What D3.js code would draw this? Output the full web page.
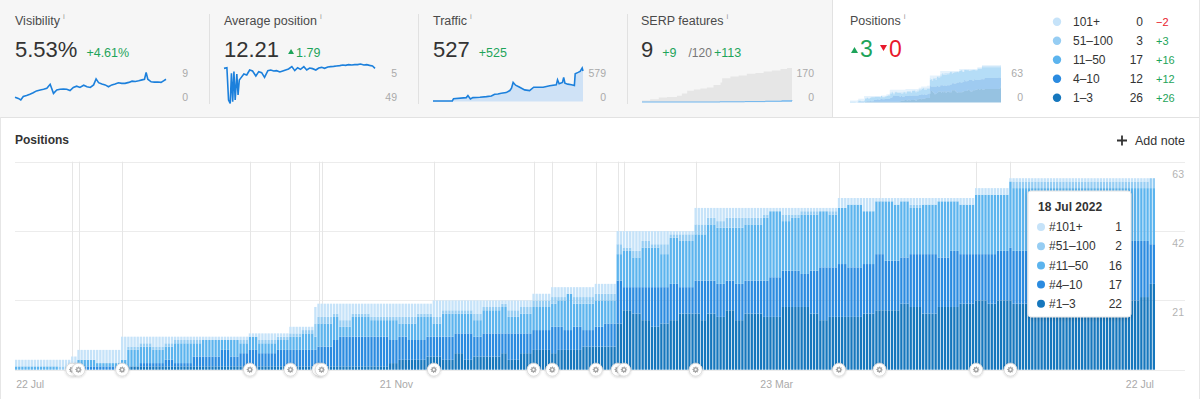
<!DOCTYPE html>
<html><head><meta charset="utf-8">
<script src="https://cdn.jsdelivr.net/npm/d3@7"></script>
<style>
html,body{margin:0;padding:0;background:#fff;}
svg{display:block;font-family:"Liberation Sans",Arial,Helvetica,sans-serif;}
</style></head><body>
<svg id="c" width="1200" height="399">
<defs>
<filter id="sh" x="-20%" y="-20%" width="140%" height="140%"><feDropShadow dx="0" dy="1" stdDeviation="2" flood-color="#000" flood-opacity="0.18"/></filter>
<filter id="sh2" x="-50%" y="-50%" width="200%" height="200%"><feDropShadow dx="0" dy="0.5" stdDeviation="0.8" flood-color="#000" flood-opacity="0.2"/></filter>
</defs>
</svg>
<script>
// ---------------- DATA ----------------
const startDate = "2021-07-22";
const seriesNames = ["1–3","4–10","11–50","51–100","101+"];
// day offsets (from startDate) at which the stacked position counts change
const stepDays = [0,14,18,20,26,34,36,40,44,48,51,57,60,66,69,72,75,78,84,88,92,96,97,102,104,108,114,120,123,126,129,132,134,137,141,144,147,150,156,158,162,166,172,174,176,177,179,182,186,189,193,195,198,201,204,207,210,213,218,220,222,225,228,231,234,240,242,246,249,252,255,258,261,264,267,272,276,279,282,284,287,291,296,300,303,308,312,315,319,320,325,358,361,364];
const top1_3    = [0,0,0,0,0,0,1,1,1,1,1,1,1,1,1,1,1,1,1,1,1,1,1,1,1,1,1,2,3,3,3,4,4,3,5,3,4,4,5,3,5,6,5,6,6,6,6,7,7,7,14,18,17,15,13,14,15,17,17,15,17,16,18,15,17,16,16,19,19,19,17,15,16,16,16,17,18,18,18,20,19,17,19,19,20,21,20,21,21,20,21,21,22,26];
const top4_10   = [0,0,0,1,1,0,0,1,1,2,1,3,3,5,3,4,5,4,5,5,5,5,6,8,9,9,9,7,7,6,6,6,6,7,6,8,6,7,6,8,6,6,8,7,6,6,7,5,6,7,13,7,8,10,12,11,11,8,10,12,10,10,9,11,10,11,12,11,11,10,13,16,15,16,15,15,17,15,15,14,16,18,15,17,15,14,15,15,16,16,17,18,17,12];
const top11_50  = [1,0,1,2,1,3,5,5,4,4,6,4,5,3,5,3,4,3,3,4,5,4,7,7,3,6,5,6,4,5,7,6,4,7,6,6,5,7,8,5,6,7,7,8,9,11,7,8,8,7,8,11,9,12,12,10,14,14,14,14,17,17,16,17,17,19,20,15,16,18,17,17,16,17,19,16,16,18,17,17,14,15,17,15,15,18,18,17,20,19,17,16,16,17];
const top51_100 = [0,1,0,0,0,0,1,1,1,1,1,1,0,0,0,1,0,1,1,1,1,4,2,1,2,1,1,1,2,2,1,1,2,1,1,1,2,1,1,2,2,2,2,1,1,0,2,2,2,2,3,1,2,2,1,3,1,2,3,3,2,2,3,3,2,1,0,2,1,1,1,0,1,0,0,0,0,0,0,0,1,0,0,0,0,0,0,0,0,2,2,2,2,3];
const top101    = [2,2,3,3,4,7,3,2,3,2,1,1,1,1,1,1,1,2,1,2,1,5,4,3,5,3,4,4,4,4,3,3,5,3,3,3,4,2,1,3,2,2,3,3,3,2,3,3,3,3,4,5,6,3,4,4,1,1,5,5,3,4,3,3,3,2,1,2,2,1,1,1,1,3,2,4,1,1,2,1,2,2,1,1,2,2,2,2,1,1,1,1,1,0];
const noteDays = [18,20,34,75,88,97,98,134,166,172,186,193,195,218,264,277,308,319];
const xTickDates = ["2021-07-22","2021-11-21","2022-03-23","2022-07-22"];
const xTickLabels = ["22 Jul","21 Nov","23 Mar","22 Jul"];
const yTicks = [21,42,63];
const tooltipDate = "2022-07-18";

const metricLabels  = ["Visibility","Average position","Traffic","SERP features"];
const metricValues  = ["5.53%","12.21","527","9"];
const metricChanges = ["+4.61%","1.79","+525","+9"];
const serpTotalLabel = "/120";
const serpTotalChange = "+113";
const sparkMax = ["9","5","579","170"];
const sparkMin = ["0","49","0","0"];

const visDays   = [0,8,14,20,28,36,44,52,61,69,77,85,93,101,109,117,125,133,141,149,157,166,174,182,190,196,202,210,218,226,234,242,250,258,266,275,283,291,299,307,313,317,321,329,337,345,353,359,365];
const visValues = [0.9,0.5,0,1.1,1.4,1.8,2.3,2.9,3.2,3.4,3.7,5.0,2.1,3.2,3.4,3.5,3.4,3.0,4.0,4.4,4.0,4.7,4.2,4.0,4.8,6.7,5.5,5.1,4.8,4.2,4.8,5.1,5.5,5.3,5.3,5.6,6.0,5.9,6.1,6.4,6.6,8.8,6.6,5.8,5.7,5.7,5.6,6.1,6.6];
const posDays   = [0,7,11,15,18,21,24,27,31,34,37,40,48,55,62,69,77,84,91,98,106,113,120,127,135,142,149,156,164,171,178,185,193,200,207,214,222,229,236,243,251,258,265,272,280,287,294,301,309,316,323,330,338,345,352,359,365];
const posValues = [9.8,9.1,44.6,48.3,15.3,46.4,13.4,44.6,16.0,39.1,22.6,20.8,16.0,17.1,11.6,12.7,18.2,13.4,14.5,19.7,12.3,11.6,12.7,12.3,13.8,12.7,11.6,10.5,7.9,12.3,9.1,10.9,7.9,11.6,9.4,10.1,11.6,9.4,8.7,9.8,8.3,7.9,7.6,7.2,6.8,6.1,6.5,5.7,6.1,5.7,5.7,5.0,6.1,5.7,6.5,7.2,9.8];
const trafDays  = [0,24,47,50,81,85,91,97,114,130,142,150,158,166,178,187,191,195,201,211,223,235,245,255,268,284,300,303,307,315,318,321,328,337,344,346,353,358,363,365];
const trafValues= [9,9,9,49,67,102,44,67,73,84,96,125,131,143,154,189,230,329,282,247,201,189,247,247,247,271,288,375,306,329,416,317,300,288,276,480,503,521,579,527];
const serpDays  = [0,20,41,61,85,97,110,126,142,158,174,191,195,215,235,255,276,296,316,337,353,365];
const serpTotal = [8,14,22,25,31,42,56,63,68,73,85,97,119,127,133,141,145,153,158,165,170,161];
const serpOwnDays = [0,190,250,300,340,365];
const serpOwnValues = [0,1,2,4,6,9];
const upCount = "3", downCount = "0";

// ---------------- DRAW ----------------
const colors = ["#1677bd","#2b8be0","#5cb4ee","#96cdf3","#c6e3f9"]; // 1-3 ... 101+
const green = "#1ea45a", red = "#e8192c", axisGray = "#aaaaaa";
const svg = d3.select("#c");
const parse = d3.utcParse("%Y-%m-%d");
const t0 = parse(startDate);
const dayOf = s => d3.utcDay.count(t0, parse(s));

const nDays = 366;
const keys = ["p1","p2","p3","p4","p5"];
const daily = d3.range(nDays).map(d => {
  const i = d3.bisectRight(stepDays, d) - 1;
  return {day:d, p1:top1_3[i], p2:top4_10[i], p3:top11_50[i], p4:top51_100[i], p5:top101[i]};
});
const stacked = d3.stack().keys(keys)(daily);

// top panel backgrounds
svg.append("rect").attr("x",0).attr("y",0).attr("width",833).attr("height",117).attr("fill","#f6f6f6");
svg.append("line").attr("x1",832.5).attr("x2",832.5).attr("y1",0).attr("y2",117).attr("stroke","#e2e2e2");
svg.append("line").attr("x1",0).attr("x2",1200).attr("y1",117.5).attr("y2",117.5).attr("stroke","#e2e2e2");
svg.append("line").attr("x1",0.5).attr("x2",0.5).attr("y1",117).attr("y2",399).attr("stroke","#e6e6e6");
svg.append("line").attr("x1",1199.5).attr("x2",1199.5).attr("y1",0).attr("y2",399).attr("stroke","#e6e6e6");
[209,418,627].forEach(xx => svg.append("line").attr("x1",xx+0.5).attr("x2",xx+0.5).attr("y1",14).attr("y2",104).attr("stroke","#e1e1e1"));

function labelWithInfo(x0, text){
  const t = svg.append("text").attr("x",x0).attr("y",25).attr("font-size",12.5).attr("fill","#4a4a4a").text(text);
  const w = t.node().getComputedTextLength();
  svg.append("text").attr("x",x0+w+3).attr("y",19).attr("font-size",8).attr("fill","#a0a0a0").text("i");
}
const cardX = [15,224,433,641];
metricLabels.forEach((l,i) => labelWithInfo(cardX[i], l));
// big values
cardX.forEach((x0,i) => {
  const t = svg.append("text").attr("x",x0).attr("y",57).attr("font-size",22).attr("fill","#333").text(metricValues[i]);
  const w = t.node().getComputedTextLength();
  let cx = x0 + w + 9;
  if (i === 1) {
    svg.append("path").attr("d",`M${cx},${54} l3,-5 l3,5 z`).attr("fill",green);
    cx += 8;
  }
  const c = svg.append("text").attr("x",cx).attr("y",57).attr("font-size",12.5).attr("fill",green).text(metricChanges[i]);
  if (i === 3) {
    const cw = c.node().getComputedTextLength();
    const g = svg.append("text").attr("x",cx+cw+12).attr("y",57).attr("font-size",12).attr("fill","#777").text(serpTotalLabel);
    const gw = g.node().getComputedTextLength();
    svg.append("text").attr("x",cx+cw+12+gw+2).attr("y",57).attr("font-size",12.5).attr("fill",green).text(serpTotalChange);
  }
});
// spark labels
function sparkLabels(x0, hi, lo){
  svg.append("text").attr("x",x0+173).attr("y",77).attr("text-anchor","end").attr("font-size",10.5).attr("fill",axisGray).text(hi);
  svg.append("text").attr("x",x0+173).attr("y",101).attr("text-anchor","end").attr("font-size",10.5).attr("fill",axisGray).text(lo);
}
cardX.forEach((x0,i)=>sparkLabels(x0, sparkMax[i], sparkMin[i]));
sparkLabels(850, "63", "0");

const lineBlue = "#1c80dc";
// visibility
{
  const xs = d3.scaleLinear().domain([0,365]).range([15,166]);
  const ys = d3.scaleLinear().domain([0,9]).range([100,71.7]);
  const pts = visDays.map((d,i)=>[d,visValues[i]]);
  svg.append("path").attr("d", d3.line().x(p=>xs(p[0])).y(p=>ys(p[1]))(pts)).attr("fill","none").attr("stroke",lineBlue).attr("stroke-width",1.6);
}
// average position
{
  const xs = d3.scaleLinear().domain([0,365]).range([224,375]);
  const ys = d3.scaleLinear().domain([5,49]).range([64,104]);
  const pts = posDays.map((d,i)=>[d,posValues[i]]);
  svg.append("path").attr("d", d3.line().x(p=>xs(p[0])).y(p=>ys(p[1]))(pts)).attr("fill","none").attr("stroke",lineBlue).attr("stroke-width",1.6);
}
// traffic
{
  const xs = d3.scaleLinear().domain([0,365]).range([433,583]);
  const ys = d3.scaleLinear().domain([0,579]).range([101.5,68]);
  const pts = trafDays.map((d,i)=>[d,trafValues[i]]);
  svg.append("path").attr("d", d3.area().x(p=>xs(p[0])).y0(ys(0)).y1(p=>ys(p[1]))(pts)).attr("fill","#cfe2f6");
  svg.append("path").attr("d", d3.line().x(p=>xs(p[0])).y(p=>ys(p[1]))(pts)).attr("fill","none").attr("stroke",lineBlue).attr("stroke-width",1.6);
}
// serp features
{
  const xs = d3.scaleLinear().domain([0,365]).range([642,792]);
  const ys = d3.scaleLinear().domain([0,170]).range([102,68]);
  const pts = serpDays.map((d,i)=>[d,serpTotal[i]]);
  svg.append("path").attr("d", d3.area().curve(d3.curveStepAfter).x(p=>xs(p[0])).y0(ys(0)).y1(p=>ys(p[1]))(pts)).attr("fill","#e6e6e6");
  const own = serpOwnDays.map((d,i)=>[d,serpOwnValues[i]]);
  svg.append("path").attr("d", d3.area().curve(d3.curveStepAfter).x(p=>xs(p[0])).y0(ys(0)).y1(p=>ys(p[1]))(own)).attr("fill","#a9d2f3");
  svg.append("path").attr("d", d3.line().curve(d3.curveStepAfter).x(p=>xs(p[0])).y(p=>ys(p[1]))(own)).attr("fill","none").attr("stroke","#6fb5ee").attr("stroke-width",1);
}
// positions card
labelWithInfo(850, "Positions");
svg.append("path").attr("d","M851,53 l3.5,-6 l3.5,6 z").attr("fill",green);
svg.append("text").attr("x",860).attr("y",57).attr("font-size",23).attr("fill",green).text(upCount);
svg.append("path").attr("d","M880,45 l3.5,6 l3.5,-6 z").attr("fill",red);
svg.append("text").attr("x",889).attr("y",57).attr("font-size",23).attr("fill",red).text(downCount);
{
  const xs = d3.scaleLinear().domain([0,nDays-1]).range([850,1001]);
  const ys = d3.scaleLinear().domain([0,63]).range([102.5,62]);
  const area = d3.area().curve(d3.curveStepAfter).x(d=>xs(d.data.day)).y0(d=>ys(d[0])).y1(d=>ys(d[1]));
  stacked.forEach((s,k)=>svg.append("path").attr("d",area(s)).attr("fill",colors[k]).attr("fill-opacity",0.45));
}
// legend
{
  const last = daily[nDays-1], first = daily[0];
  const order = [4,3,2,1,0];
  order.forEach((k,r) => {
    const yy = 21.7 + r*19;
    svg.append("circle").attr("cx",1057).attr("cy",yy).attr("r",4.2).attr("fill",colors[k]);
    svg.append("text").attr("x",1073).attr("y",yy+4.2).attr("font-size",12).attr("fill","#333").text(seriesNames[k]);
    const v = last[keys[k]], ch = v - first[keys[k]];
    svg.append("text").attr("x",1143).attr("y",yy+4.2).attr("text-anchor","end").attr("font-size",12).attr("fill","#333").text(v);
    svg.append("text").attr("x",1156).attr("y",yy+4.2).attr("font-size",11).attr("fill", ch<0?red:green).text(ch<0?"−"+(-ch):"+"+ch);
  });
}

// ---------------- MAIN CHART ----------------
svg.append("text").attr("x",15).attr("y",144).attr("font-size",12).attr("font-weight","bold").attr("fill","#333").text("Positions");
svg.append("path").attr("d","M1117,140.5 h10 M1122,135.5 v10").attr("stroke","#333").attr("stroke-width",1.8);
svg.append("text").attr("x",1135).attr("y",144.5).attr("font-size",12.5).attr("fill","#333").text("Add note");

const x = d3.scaleBand().domain(d3.range(nDays)).range([15,1155]).paddingInner(0.25);
const y = d3.scaleLinear().domain([0,63]).range([369.7,161.7]);
const xc = d => x(d) + x.bandwidth()/2;

// gridlines
[0].concat(yTicks).forEach(v => svg.append("line").attr("x1",15).attr("x2",1185).attr("y1",Math.round(y(v))+0.5).attr("y2",Math.round(y(v))+0.5).attr("stroke","#ececec"));
yTicks.forEach(v => svg.append("text").attr("x",1184).attr("y",y(v)+16).attr("text-anchor","end").attr("font-size",10.5).attr("fill","#b3b3b3").text(v));
// note lines
noteDays.forEach(d => svg.append("line").attr("x1",Math.round(xc(d))+0.5).attr("x2",Math.round(xc(d))+0.5).attr("y1",y(63)).attr("y2",y(0)).attr("stroke","#e6e6e6"));
// bars
stacked.forEach((s,k) => {
  svg.append("g").attr("fill",colors[k]).selectAll("rect").data(s.filter(d=>d[1]>d[0])).join("rect")
    .attr("x",d=>x(d.data.day)).attr("width",x.bandwidth())
    .attr("y",d=>y(d[1])).attr("height",d=>y(d[0])-y(d[1]));
});
// gear path
const gearPts = [];
const teeth = 8;
for (let i = 0; i < teeth*4; i++) {
  const a = i / (teeth*4) * 2 * Math.PI;
  const r = (i % 4 === 0 || i % 4 === 1) ? 3.3 : 2.4;
  gearPts.push([r*Math.cos(a), r*Math.sin(a)]);
}
const gearPath = d3.line().curve(d3.curveLinearClosed)(gearPts);
// note markers
noteDays.forEach(d => {
  const g = svg.append("g").attr("transform",`translate(${xc(d)},369.7)`);
  g.append("circle").attr("r",6.5).attr("fill","#fff").attr("stroke","#dcdcdc").attr("filter","url(#sh2)");
  g.append("path").attr("d",gearPath).attr("fill","#a3a3a3");
  g.append("circle").attr("r",1.1).attr("fill","#fff");
});
// x labels
xTickDates.forEach((s,i) => {
  const d = dayOf(s);
  svg.append("text").attr("x",xc(d)).attr("y",388)
    .attr("text-anchor", i===0?"start":(i===xTickDates.length-1?"end":"middle"))
    .attr("font-size",10.5).attr("fill",axisGray).text(xTickLabels[i]);
});
// tooltip
{
  const td = dayOf(tooltipDate);
  const row = daily[td];
  const g = svg.append("g").attr("transform","translate(1028,191)");
  g.append("rect").attr("width",103).attr("height",126).attr("rx",3).attr("fill","#fff").attr("stroke","#e4e4e4").attr("filter","url(#sh)");
  g.append("text").attr("x",10).attr("y",20).attr("font-size",12).attr("font-weight","bold").attr("fill","#333").text(d3.utcFormat("%-d %b %Y")(parse(tooltipDate)));
  [4,3,2,1,0].forEach((k,r) => {
    const yy = 36 + r*19.2;
    g.append("circle").attr("cx",13).attr("cy",yy).attr("r",4).attr("fill",colors[k]);
    g.append("text").attr("x",21).attr("y",yy+4.2).attr("font-size",12).attr("fill","#333").text("#"+seriesNames[k]);
    g.append("text").attr("x",94).attr("y",yy+4.2).attr("text-anchor","end").attr("font-size",12).attr("fill","#333").text(row[keys[k]]);
  });
}
</script>
</body></html>
